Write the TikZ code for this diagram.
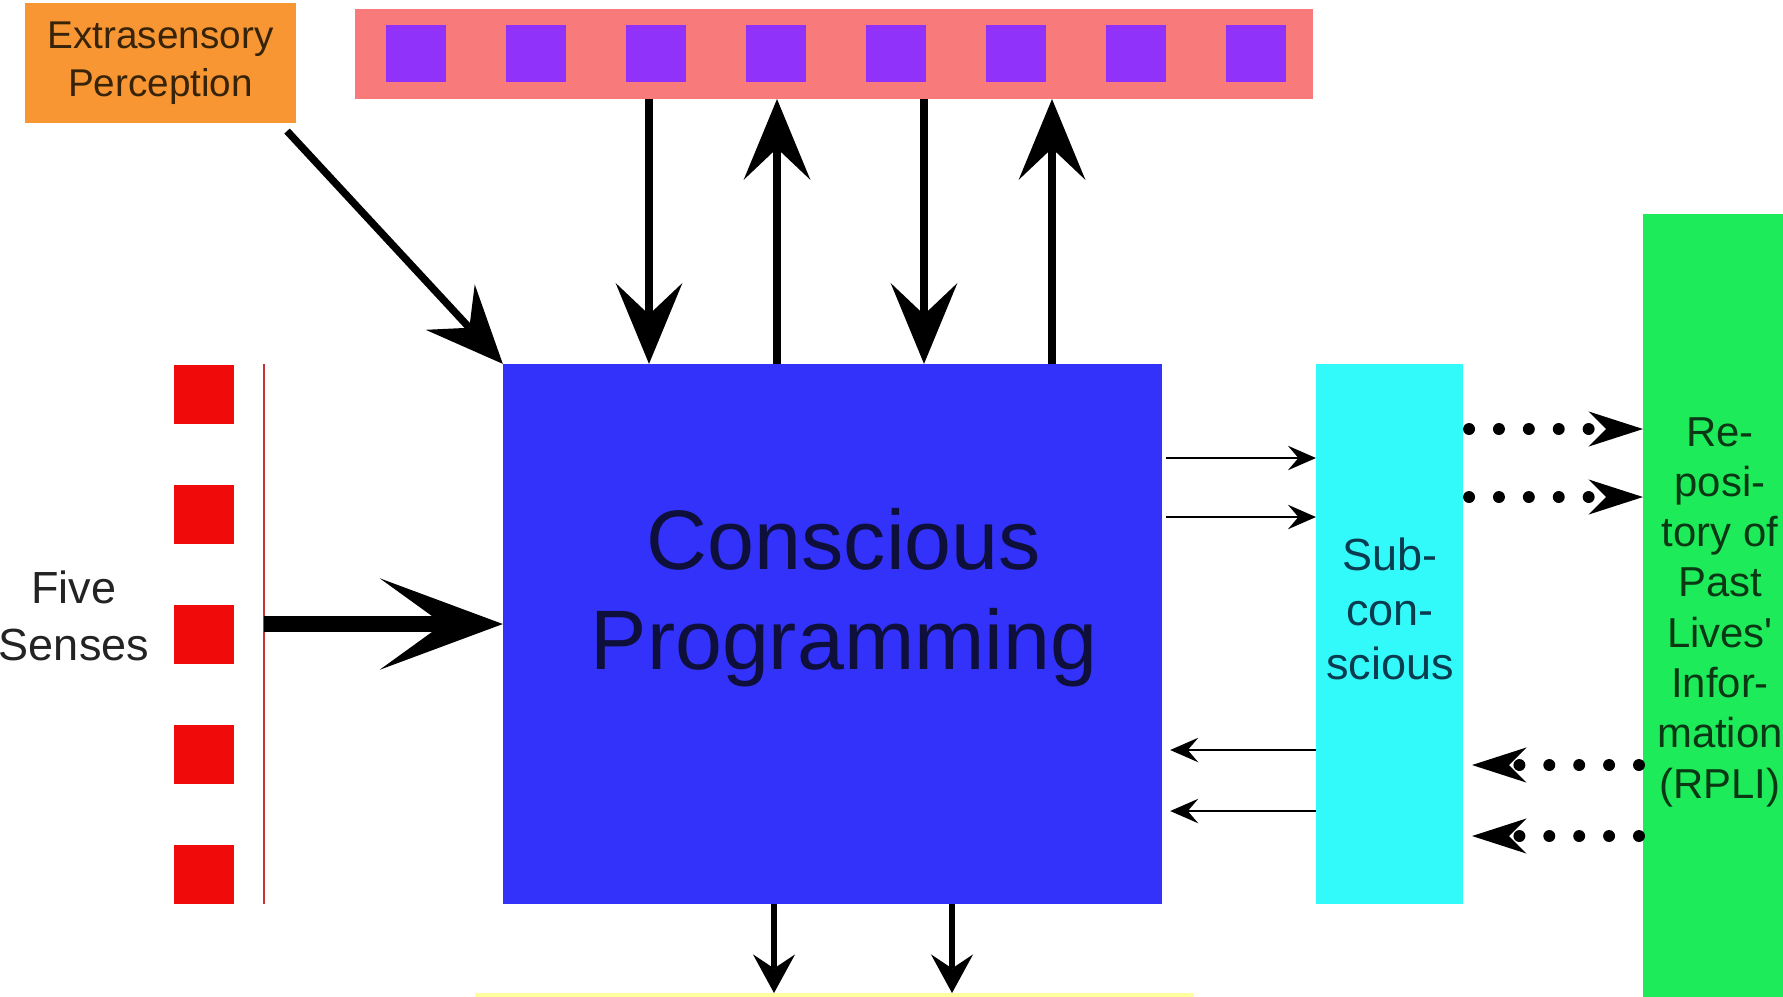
\documentclass[tikz,border=0pt]{standalone}
\usepackage{fontspec}
\setmainfont{Liberation Sans}
\usetikzlibrary{arrows.meta,calc}
\definecolor{orng}{RGB}{247,150,50}
\definecolor{pinkbar}{RGB}{248,122,122}
\definecolor{purp}{RGB}{145,50,250}
\definecolor{bluebox}{RGB}{50,50,250}
\definecolor{redsq}{RGB}{240,10,10}
\definecolor{redln}{RGB}{200,50,50}
\definecolor{cyanbox}{RGB}{50,250,250}
\definecolor{greenbox}{RGB}{30,235,90}
\definecolor{yel}{RGB}{255,255,160}
\definecolor{navytxt}{RGB}{15,15,60}
\definecolor{tealtxt}{RGB}{10,60,80}
\definecolor{greentxt}{RGB}{10,55,20}
\definecolor{browntxt}{RGB}{55,35,10}
\definecolor{graytxt}{RGB}{35,35,35}
\begin{document}
\begin{tikzpicture}[x=0.01cm,y=-0.01cm,
  box/.style={draw=none,inner sep=0pt,outer sep=0pt},
  bigarrow/.style={line width=2.3pt,-{Stealth[length=23pt,width=19pt,inset=9pt,line width=0pt]}},
  extarrow/.style={line width=2.1pt,-{Stealth[length=22pt,width=19pt,inset=8pt,line width=0pt]}},
  fivearrow/.style={line width=4.5pt,-{Stealth[length=35pt,width=26pt,inset=18pt,line width=0pt]}},
  thinarrow/.style={line width=0.8pt,-{Stealth[length=8pt,width=7pt,inset=3pt,line width=0pt]}},
  dotarrow/.style={line width=3.4pt,line cap=round,dash pattern=on 0pt off 8.5pt,-{Stealth[length=15.5pt,width=10pt,inset=5pt,line width=0pt]}},
  botarrow/.style={line width=1.6pt,-{Stealth[length=11pt,width=12pt,inset=4pt,line width=0pt]}}
]
\useasboundingbox (0,0) rectangle (1783,996);
\fill[white] (0,0) rectangle (1783,996);

% extrasensory perception
\node[box,fill=orng,minimum width=2.71cm,minimum height=1.20cm,align=center,text=browntxt,font=\fontsize{11}{13.6}\selectfont] (ext) at (160.5,63) {Extrasensory\\Perception};

% top bar
\node[box,fill=pinkbar,minimum width=9.58cm,minimum height=0.90cm] (bar) at (834,54) {};
\foreach \i in {0,...,7}
  \node[box,fill=purp,minimum width=0.60cm,minimum height=0.57cm] (p\i) at ({416+120*\i},53.5) {};

% conscious programming
\node[box,fill=bluebox,minimum width=6.59cm,minimum height=5.40cm] (cp) at (832.5,634) {};
\node[text=navytxt,font=\fontsize{24}{28.5}\selectfont,align=center] (cptext) at (844,598) {Conscious\\Programming};

% five senses
\foreach \i in {0,...,4}
  \node[box,fill=redsq,minimum width=0.60cm,minimum height=0.59cm] (r\i) at (204,{394+120*\i}) {};
\coordinate (rlt) at (264,364);
\coordinate (rlb) at (264,904);
\draw[redln,line width=0.8pt] (rlt) -- (rlb);
\node[align=center,text=graytxt,font=\fontsize{12.8}{16.2}\selectfont] (fs) at (74,616) {Five\\Senses};
\coordinate (fsa) at (264,624);
\draw[fivearrow] (fsa) -- (fsa -| cp.west);

% subconscious
\node[box,fill=cyanbox,minimum width=1.47cm,minimum height=5.40cm] (sc) at (1389.5,634) {};
\node[text=tealtxt,font=\fontsize{12.8}{15.4}\selectfont,align=center] (sctext) at (1390,609) {Sub-\\con-\\scious};

% repository
\node[box,fill=greenbox,minimum width=1.54cm,minimum height=7.96cm,text=greentxt,align=center,font=\fontsize{11.9}{14.3}\selectfont] (rp) at (1720,612) {Re-\\posi-\\tory of\\Past\\Lives\textquotesingle\\Infor-\\mation\\(RPLI)};

% bottom yellow
\node[box,fill=yel,minimum width=7.19cm,minimum height=0.20cm] (yb) at (834.5,1003) {};

% top arrows
\coordinate (x1) at (649,0);
\coordinate (x2) at (777,0);
\coordinate (x3) at (924,0);
\coordinate (x4) at (1052,0);
\draw[bigarrow] (x1 |- bar.south) -- (x1 |- cp.north);
\draw[bigarrow] (x2 |- cp.north) -- (x2 |- bar.south);
\draw[bigarrow] (x3 |- bar.south) -- (x3 |- cp.north);
\draw[bigarrow] (x4 |- cp.north) -- (x4 |- bar.south);

% extrasensory arrow
\draw[extarrow] ([xshift=-0.09cm,yshift=-0.08cm]ext.south east) -- (cp.north west);

% thin arrows
\coordinate (t1) at (0,458);
\coordinate (t2) at (0,517);
\coordinate (t3) at (0,750);
\coordinate (t4) at (0,811);
\draw[thinarrow,shorten <=0.04cm] (t1 -| cp.east) -- (t1 -| sc.west);
\draw[thinarrow,shorten <=0.04cm] (t2 -| cp.east) -- (t2 -| sc.west);
\draw[thinarrow,shorten >=0.08cm] (t3 -| sc.west) -- (t3 -| cp.east);
\draw[thinarrow,shorten >=0.08cm] (t4 -| sc.west) -- (t4 -| cp.east);

% dotted arrows
\coordinate (d1) at (0,429);
\coordinate (d2) at (0,497);
\coordinate (d3) at (0,765);
\coordinate (d4) at (0,836);
\draw[dotarrow,shorten <=0.06cm] (d1 -| sc.east) -- (d1 -| rp.west);
\draw[dotarrow,shorten <=0.06cm] (d2 -| sc.east) -- (d2 -| rp.west);
\draw[dotarrow,shorten <=0.04cm,shorten >=0.09cm] (d3 -| rp.west) -- (d3 -| sc.east);
\draw[dotarrow,shorten <=0.04cm,shorten >=0.09cm] (d4 -| rp.west) -- (d4 -| sc.east);

% bottom arrows
\coordinate (b1) at (774,0);
\coordinate (b2) at (952,0);
\draw[botarrow] (b1 |- cp.south) -- (b1 |- yb.north);
\draw[botarrow] (b2 |- cp.south) -- (b2 |- yb.north);
\end{tikzpicture}
\end{document}
